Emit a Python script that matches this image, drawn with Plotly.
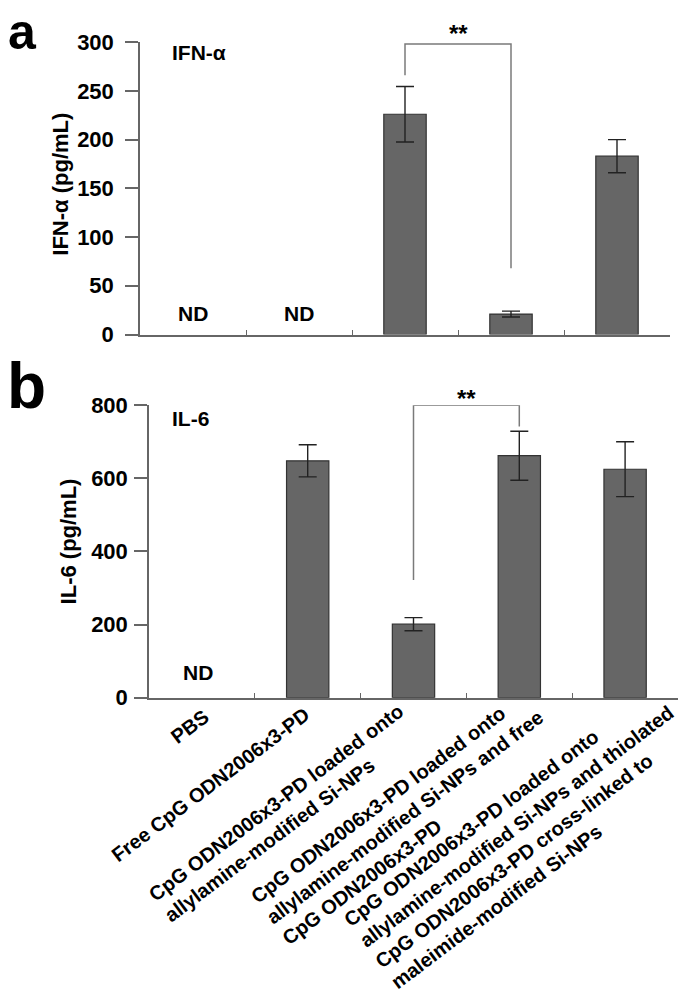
import plotly.graph_objects as go

# ---------------- data ----------------
categories = [
    "PBS",
    "Free CpG ODN2006x3-PD",
    "CpG ODN2006x3-PD loaded onto<br>allylamine-modified Si-NPs",
    "CpG ODN2006x3-PD loaded onto<br>allylamine-modified Si-NPs and free<br>CpG ODN2006x3-PD",
    "CpG ODN2006x3-PD loaded onto<br>allylamine-modified Si-NPs and thiolated<br>CpG ODN2006x3-PD cross-linked to<br>maleimide-modified Si-NPs",
]
ifn_values = [None, None, 226, 21, 183]
ifn_errors = [0, 0, 28.5, 3, 17]
ifn_nd = ["ND", "ND", "", "", ""]
il6_values = [None, 648, 201, 662, 625]
il6_errors = [0, 44, 18, 67, 75]
il6_nd = ["ND", "", "", "", ""]

ifn_ticks = [0, 50, 100, 150, 200, 250, 300]
il6_ticks = [0, 200, 400, 600, 800]

# significance brackets: category indices and y levels
ifn_bracket_idx = [2, 2, 3, 3]
ifn_bracket_y = [266, 298, 298, 68]
il6_bracket_idx = [2, 2, 3, 3]
il6_bracket_y = [322, 800, 800, 742]

# ---------------- style ----------------
PAGE_W, PAGE_H = 686, 1001
OFF = 8  # default body margin of the html page
W, H = PAGE_W - 2 * OFF, PAGE_H - 2 * OFF
FONT = "Liberation Sans, Arial, sans-serif"
BAR_FILL = "#666666"
BAR_LINE = "#333333"
AXIS_COL = "#666666"
BRACKET_COL = "#7a7a7a"


def px(X):
    return min(1.0, max(0.0, (X - OFF) / W))


def py(Y):
    return min(1.0, max(0.0, 1 - (Y - OFF) / H))


top_px = dict(x0=140, x1=670, y0=30.7, y1=330.7)
bot_px = dict(x0=149, x1=678, y0=403.3, y1=703.3)


def xdom(p):
    return [px(p["x0"]), px(p["x1"])]


def ydom(p):
    return [py(p["y1"]), py(p["y0"])]


# rotated category label centres (page px)
xlabel_centers = [(189, 733), (210, 793), (284, 822), (405, 826), (524, 846)]

fig = go.Figure()


def add_bars(vals, errs, xa, ya):
    fig.add_trace(go.Bar(
        x=categories, y=vals, xaxis=xa, yaxis=ya, width=0.4,
        marker=dict(color=BAR_FILL, line=dict(color=BAR_LINE, width=1.2)),
        error_y=dict(type="data", array=errs, color="#222222", thickness=1.4, width=9),
        showlegend=False, hoverinfo="skip",
    ))


add_bars(ifn_values, ifn_errors, "x", "y")
add_bars(il6_values, il6_errors, "x2", "y2")


def add_bracket(idx, ys, xa, ya):
    fig.add_trace(go.Scatter(
        x=[categories[i] for i in idx], y=ys, xaxis=xa, yaxis=ya,
        mode="lines", line=dict(color=BRACKET_COL, width=1.5),
        showlegend=False, hoverinfo="skip", cliponaxis=False,
    ))


add_bracket(ifn_bracket_idx, ifn_bracket_y, "x", "y")
add_bracket(il6_bracket_idx, il6_bracket_y, "x2", "y2")

axis_common = dict(showline=True, linecolor=AXIS_COL, linewidth=1.5,
                   showgrid=False, zeroline=False)
xcommon = dict(type="category", categoryorder="array", categoryarray=categories,
               range=[-0.5, 4.5], tickson="boundaries", ticks="inside",
               ticklen=5, tickcolor=AXIS_COL, tickwidth=1.2,
               showticklabels=False, **axis_common)
ycommon = dict(ticks="outside", ticklen=13, tickcolor=AXIS_COL, tickwidth=1.5,
               tickfont=dict(size=22, family=FONT, weight="bold"), **axis_common)

fig.update_layout(
    width=W, height=H,
    margin=dict(l=0, r=0, t=0, b=0),
    paper_bgcolor="white", plot_bgcolor="white",
    font=dict(family=FONT, color="black", size=20, weight="bold"),
    xaxis=dict(domain=xdom(top_px), anchor="y", **xcommon),
    yaxis=dict(domain=ydom(top_px), anchor="x", range=[0, 300], tickvals=ifn_ticks,
               ticklabelstandoff=7, **ycommon),
    xaxis2=dict(domain=xdom(bot_px), anchor="y2", **xcommon),
    yaxis2=dict(domain=ydom(bot_px), anchor="x2", range=[0, 800], tickvals=il6_ticks,
                ticklabelstandoff=2, **ycommon),
)

ann = []
# ND labels
for c, t in zip(categories, ifn_nd):
    if t:
        ann.append(dict(x=c, y=0, xref="x", yref="y", text=t, showarrow=False,
                        yanchor="bottom", yshift=8, font=dict(size=21)))
for c, t in zip(categories, il6_nd):
    if t:
        ann.append(dict(x=c, y=0, xref="x2", yref="y2", text=t, showarrow=False,
                        yanchor="bottom", yshift=12, xshift=-4, font=dict(size=21)))

# significance stars
ann.append(dict(x=2.5, y=ifn_bracket_y[1], xref="x", yref="y", text="**",
                showarrow=False, yanchor="bottom", yshift=-5, font=dict(size=24)))
ann.append(dict(x=2.5, y=il6_bracket_y[1], xref="x2", yref="y2", text="**",
                showarrow=False, yanchor="bottom", yshift=-9, font=dict(size=24)))

# cytokine names inside panels
ann.append(dict(x=(170 - top_px["x0"]) / (top_px["x1"] - top_px["x0"]), y=289,
                xref="x domain", yref="y", text="IFN-α", showarrow=False,
                xanchor="left", yanchor="middle", font=dict(size=21)))
ann.append(dict(x=(170 - bot_px["x0"]) / (bot_px["x1"] - bot_px["x0"]), y=764,
                xref="x2 domain", yref="y2", text="IL-6", showarrow=False,
                xanchor="left", yanchor="middle", font=dict(size=21)))

# y-axis titles
ann.append(dict(x=px(61), y=py(177), xref="paper", yref="paper",
                text="IFN-α (pg/mL)", textangle=-90, showarrow=False,
                xanchor="center", yanchor="middle", font=dict(size=22)))
ann.append(dict(x=px(68), y=py(543), xref="paper", yref="paper",
                text="IL-6 (pg/mL)", textangle=-90, showarrow=False,
                xanchor="center", yanchor="middle", font=dict(size=22)))

# panel letters
ann.append(dict(x=0, y=1, xref="paper", yref="paper", text="a", showarrow=False,
                xanchor="left", yanchor="top", yshift=18, xshift=-2,
                font=dict(size=50)))
ann.append(dict(x=0, y=py(345), xref="paper", yref="paper", text="b", showarrow=False,
                xanchor="left", yanchor="top", xshift=-3, yshift=0,
                font=dict(size=64)))

# rotated category labels
for c, (cx, cy) in zip(categories, xlabel_centers):
    ann.append(dict(x=px(cx), y=py(cy), xref="paper", yref="paper", text=c,
                    textangle=-37, align="left", showarrow=False,
                    xanchor="center", yanchor="middle", font=dict(size=20)))

fig.update_layout(annotations=ann)
fig.write_html("out.html")
